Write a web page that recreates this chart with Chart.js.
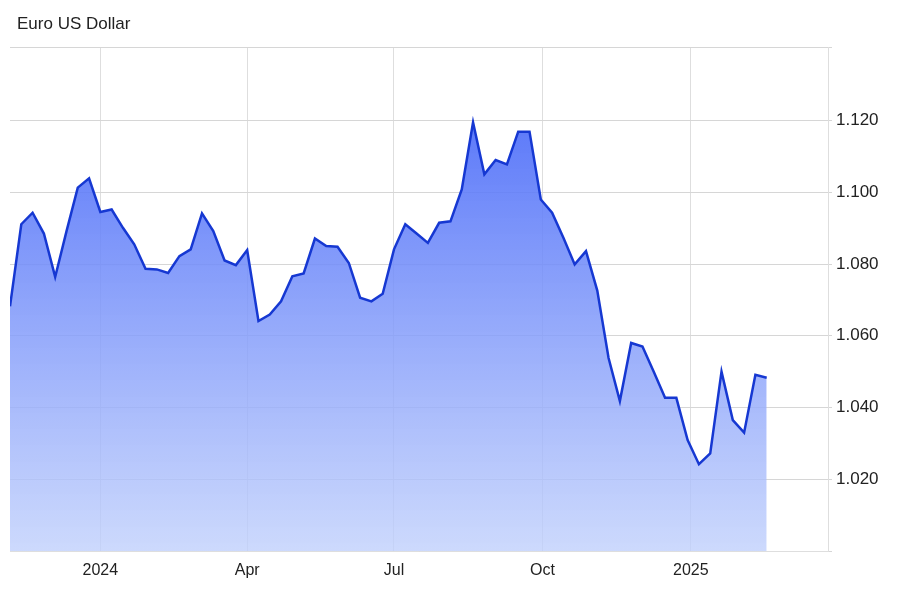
<!DOCTYPE html>
<html>
<head>
<meta charset="utf-8">
<script src="https://cdn.jsdelivr.net/npm/chart.js@4.4.1/dist/chart.umd.min.js"></script>
<style>
  html, body { margin: 0; padding: 0; background: #fff; }
  #wrap { position: relative; width: 900px; height: 600px; }
  #title { position: absolute; left: 17px; top: 14px; font: 17px "Liberation Sans", Arial, sans-serif; color: #222; }
</style>
</head>
<body>
<div id="wrap">
  <div id="title">Euro US Dollar</div>
  <canvas id="fxChart" width="900" height="600"></canvas>
</div>
<script>
// weekly closes, x = days since 1 Jan 2024
const startDay = -56;
const rates = [
  1.0682, 1.0911, 1.0943, 1.0885, 1.0764, 1.0891, 1.1013, 1.1039, 1.0945, 1.0952,
  1.0901, 1.0855, 1.0787, 1.0785, 1.0775, 1.0822, 1.0841, 1.0941, 1.0892, 1.0810,
  1.0797, 1.0839, 1.0641, 1.0659, 1.0696, 1.0766, 1.0774, 1.0871, 1.0850, 1.0848,
  1.0803, 1.0706, 1.0696, 1.0717, 1.0841, 1.0911, 1.0885, 1.0859, 1.0915, 1.0919,
  1.1008, 1.1195, 1.1050, 1.1090, 1.1078, 1.1169, 1.1169, 1.0980, 1.0943, 1.0873,
  1.0799, 1.0836, 1.0726, 1.0538, 1.0418, 1.0580, 1.0570, 1.0500, 1.0427, 1.0427,
  1.0309, 1.0242, 1.0272, 1.0500, 1.0365, 1.0330, 1.0491, 1.0483
];
const tickDays = [0, 91, 182, 274, 366];
const tickLabels = ["2024", "Apr", "Jul", "Oct", "2025"];
const yTicks = [1.0, 1.02, 1.04, 1.06, 1.08, 1.1, 1.12];
const yMax = 1.1405;

const points = rates.map((v, i) => ({ x: startDay + 7 * i, y: v }));

const fontFamily = '"Liberation Sans", Arial, sans-serif';

function fillGradient(context) {
  const chart = context.chart;
  const area = chart.chartArea;
  if (!area) return "rgba(80,110,245,0.6)";
  const g = chart.ctx.createLinearGradient(0, area.top, 0, area.bottom);
  g.addColorStop(0, "rgba(55,90,248,0.92)");
  g.addColorStop(1, "rgba(192,208,252,0.8)");
  return g;
}

new Chart(document.getElementById("fxChart"), {
  type: "line",
  data: {
    datasets: [{
      data: points,
      borderColor: "#1638d2",
      borderWidth: 2.5,
      backgroundColor: fillGradient,
      fill: "start",
      pointRadius: 0,
      tension: 0
    }]
  },
  options: {
    responsive: false,
    animation: false,
    layout: { padding: { top: 47, left: 10, right: 0, bottom: 0 } },
    plugins: {
      legend: { display: false },
      tooltip: { enabled: false }
    },
    scales: {
      x: {
        type: "linear",
        min: startDay,
        max: 451,
        afterBuildTicks: scale => {
          scale.ticks = tickDays.map(v => ({ value: v }));
        },
        afterFit: scale => { scale.height = 49; },
        ticks: {
          autoSkip: false,
          maxRotation: 0,
          padding: 10,
          color: "#222",
          font: { family: fontFamily, size: 16 },
          callback: value => {
            const i = tickDays.indexOf(value);
            return i >= 0 ? tickLabels[i] : "";
          }
        },
        grid: { color: "#dedede", drawTicks: false },
        border: { color: "#dedede" }
      },
      y: {
        position: "right",
        min: 1.0,
        max: yMax,
        afterBuildTicks: scale => {
          scale.ticks = yTicks.concat([yMax]).map(v => ({ value: v }));
        },
        afterFit: scale => { scale.width = 72; },
        ticks: {
          padding: 4,
          color: "#222",
          font: { family: fontFamily, size: 17 },
          callback: value => (value > 1.001 && value < 1.13) ? value.toFixed(3) : ""
        },
        grid: { color: "#d6d6d6", tickLength: 4 },
        border: { color: "#dedede" }
      }
    }
  }
});
</script>
</body>
</html>
